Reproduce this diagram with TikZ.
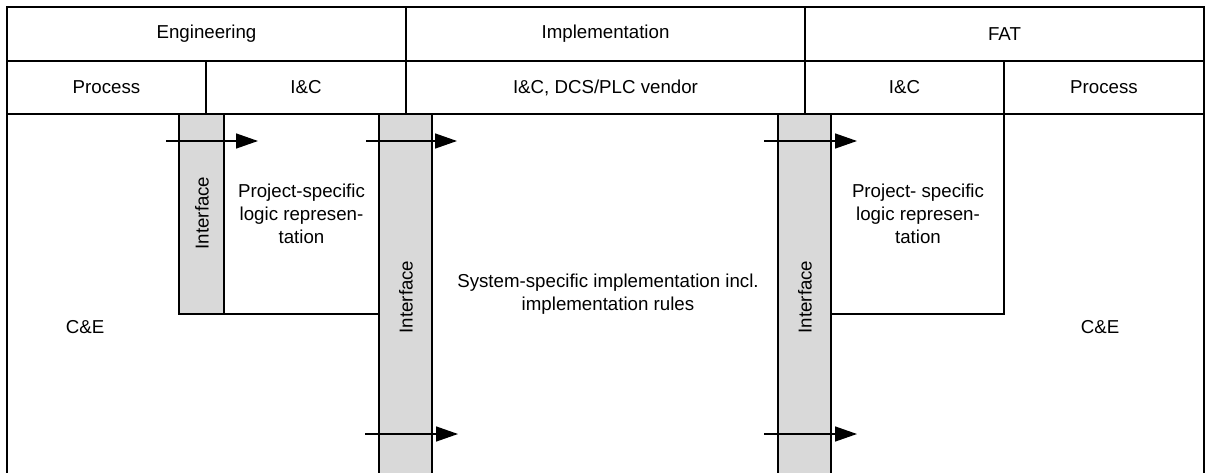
\documentclass[tikz,border=0pt]{standalone}
\usepackage{fontspec}
\setmainfont{Liberation Sans}
\usetikzlibrary{arrows.meta,fit}

\begin{document}
\begin{tikzpicture}[x=1pt,y=-1pt,
  line width=1.8pt,
  every node/.style={font=\fontsize{18.7}{23}\selectfont, inner sep=0pt, outer sep=0pt},
  cell/.style={draw},
  txt/.style={align=center},
  bar/.style={draw, fill=black!15},
  vlabel/.style={rotate=90},
  flow/.style={line width=1.4pt, -{Triangle[length=22pt,width=15pt]}}]

\useasboundingbox (0,0) rectangle (1206,473);
\clip (0,0) rectangle (1206,473);

% header: phases
\node[cell, fit={(7,7) (406,61)}]    (eng)  {};
\node[cell, fit={(406,7) (805,61)}]  (impl) {};
\node[cell, fit={(805,7) (1204,61)}] (fat)  {};
\node[txt] (engt)  at (eng.center)  {Engineering};
\node[txt] (implt) at (impl.center) {Implementation};
\node[txt] (fatt)  at (fat.center)  {FAT};

% header: responsible parties
\node[cell, fit={(7,61) (206,114)}]     (engproc) {};
\node[cell, fit={(206,61) (406,114)}]   (engic)   {};
\node[cell, fit={(406,61) (805,114)}]   (vendor)  {};
\node[cell, fit={(805,61) (1004,114)}]  (fatic)   {};
\node[cell, fit={(1004,61) (1204,114)}] (fatproc) {};
\node[txt] (engproct) at (engproc.center) {Process};
\node[txt] (engict)   at (engic.center)   {I\&C};
\node[txt] (vendort)  at (vendor.center)  {I\&C, DCS/PLC vendor};
\node[txt] (fatict)   at (fatic.center)   {I\&C};
\node[txt] (fatproct) at (fatproc.center) {Process};

% body frame (open at the bottom)
\node[draw, fit={(7,114) (1204,490)}] (body) {};

% project-specific logic boxes
\node[cell, fit={(224,114) (379,314)}] (logicL) {};
\node[cell, fit={(831,114) (1004,314)}] (logicR) {};
\node[txt] (logicLt) at (301.5,214) {Project-specific\\logic represen-\\tation};
\node[txt] (logicRt) at (918,214) {Project- specific\\logic represen-\\tation};

% interface bars
\node[bar, fit={(179,114) (224,314)}] (if1) {};
\node[bar, fit={(379,114) (432,490)}] (if2) {};
\node[bar, fit={(778,114) (831,490)}] (if3) {};
\node[vlabel] (if1l) at (202,213) {Interface};
\node[vlabel] (if2l) at (406,297) {Interface};
\node[vlabel] (if3l) at (805,297) {Interface};

% texts in the body
\node[txt] (sys) at (608,294)
  {System-specific implementation incl.\\implementation rules};
\node (ceL) at (85,327) {C\&E};
\node (ceR) at (1100,327) {C\&E};

% flow arrows across the interfaces
\coordinate (a1s) at (166,141);  \coordinate (a1e) at (258,141);
\coordinate (a2s) at (366,141);  \coordinate (a2e) at (457,141);
\coordinate (a3s) at (764,141);  \coordinate (a3e) at (857,141);
\coordinate (a4s) at (365,434);  \coordinate (a4e) at (458,434);
\coordinate (a5s) at (764,434);  \coordinate (a5e) at (857,434);
\draw[flow] (a1s) -- (a1e);
\draw[flow] (a2s) -- (a2e);
\draw[flow] (a3s) -- (a3e);
\draw[flow] (a4s) -- (a4e);
\draw[flow] (a5s) -- (a5e);
\end{tikzpicture}
\end{document}
